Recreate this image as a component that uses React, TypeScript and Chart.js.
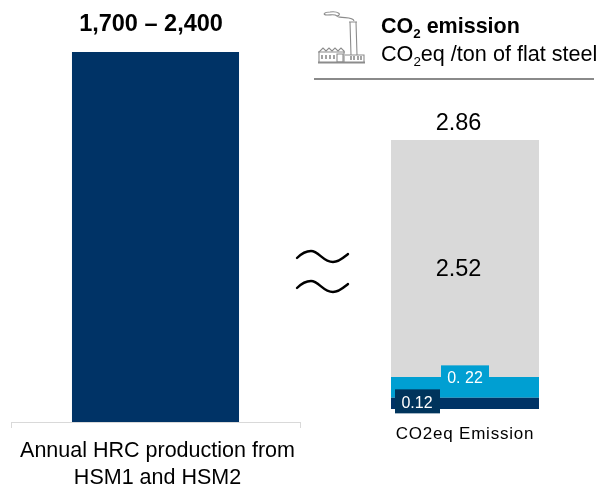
import React, { useEffect, useRef } from "react";
import { Chart, registerables } from "chart.js";

Chart.register(...registerables);

const FONT = '"Liberation Sans", Arial, sans-serif';

const productionCategories = [["Annual HRC production from", "HSM1 and HSM2"]];
const productionHigh = [2400];
const productionLabel = "1,700 – 2,400";

const emissionCategories = ["CO2eq Emission"];
const directEmission = [0.12];
const energyEmission = [0.22];
const upstreamEmission = [2.52];
const emissionTotal = 2.86;
const emissionLabels = ["0.12", "0. 22", "2.52"];

const NAVY = "#003366";
const CYAN = "#009FD2";
const GREY = "#D9D9D9";

type Boxed = { text: string; dx: number; dy: number; color: string; size: number; box?: [number, number, number, number]; fill?: string };

// Draws the text above a bar stack and the optional boxed labels on its segments.
const labelPlugin = {
  id: "barLabels",
  beforeDraw(chart: any, _args: any, opts: any) {
    // Axis text may carry extra tracking; it is cleared again for the value labels.
    (chart.ctx as any).letterSpacing = opts.tracking || "0px";
  },
  afterDatasetsDraw(chart: any, _args: any, opts: any) {
    const ctx = chart.ctx;
    ctx.save();
    ctx.letterSpacing = "0px";
    ctx.textAlign = "center";
    ctx.textBaseline = "middle";
    (opts.segments || []).forEach((s: Boxed | null, i: number) => {
      if (!s) return;
      const bar = chart.getDatasetMeta(i).data[0];
      const cx = bar.x + s.dx;
      const cy = (bar.y + bar.base) / 2 + s.dy;
      if (s.box && s.fill) {
        ctx.fillStyle = s.fill;
        ctx.fillRect(cx - s.box[0], cy - s.box[1], s.box[0] + s.box[2], s.box[1] + s.box[3]);
      }
      ctx.fillStyle = s.color;
      ctx.font = `${s.size}px ${FONT}`;
      ctx.fillText(s.text, cx, cy);
    });
    if (opts.top) {
      const n = chart.data.datasets.length - 1;
      const bar = chart.getDatasetMeta(n).data[0];
      ctx.fillStyle = "#000";
      ctx.font = `${opts.top.weight} ${opts.top.size}px ${FONT}`;
      ctx.fillText(opts.top.text, bar.x + opts.top.dx, bar.y + opts.top.dy);
    }
    ctx.restore();
  },
};

function useChart(build: (c: HTMLCanvasElement) => Chart) {
  const ref = useRef<HTMLCanvasElement>(null);
  useEffect(() => {
    const chart = build(ref.current!);
    return () => chart.destroy();
  }, []);
  return ref;
}

// Keeps the axis band at a set height and stops wide labels from narrowing the plot.
const fixedHeight = (h: number) => (scale: any) => {
  scale.height = h;
  scale.paddingLeft = 0;
  scale.paddingRight = 0;
};

function ProductionChart() {
  const ref = useChart(
    (c) =>
      new Chart(c, {
        type: "bar",
        plugins: [labelPlugin],
        data: {
          labels: productionCategories as any,
          datasets: [{ data: productionHigh, backgroundColor: NAVY, categoryPercentage: 1, barPercentage: 0.578 }],
        },
        options: {
          animation: false,
          responsive: false,
          layout: { padding: { left: 11, right: 1, top: 52, bottom: 0 } },
          plugins: {
            legend: { display: false },
            tooltip: { enabled: false },
            barLabels: { top: { text: productionLabel, weight: "bold", size: 23.5, dx: -4.5, dy: -27 } },
          } as any,
          scales: {
            x: {
              afterFit: fixedHeight(69),
              grid: { offset: true, drawOnChartArea: false, color: "#D9D9D9", tickLength: 6 },
              border: { color: "#D9D9D9" },
              ticks: {
                autoSkip: false,
                maxRotation: 0,
                minRotation: 0,
                color: "#000",
                padding: 9,
                labelOffset: 2,
                font: { family: FONT, size: 21.5, lineHeight: 1.27 },
              },
            },
            y: { display: false, min: 0, max: 2400 },
          },
        },
      } as any)
  );
  return <canvas ref={ref} width={301} height={491} style={{ position: "absolute", left: 0, top: 0 }} />;
}

function EmissionChart() {
  const ref = useChart(
    (c) =>
      new Chart(c, {
        type: "bar",
        plugins: [labelPlugin],
        data: {
          labels: emissionCategories,
          datasets: [
            { data: directEmission, backgroundColor: NAVY },
            { data: energyEmission, backgroundColor: CYAN },
            { data: upstreamEmission, backgroundColor: GREY },
          ],
        },
        options: {
          animation: false,
          responsive: false,
          datasets: { bar: { categoryPercentage: 1, barPercentage: 0.74 } },
          layout: { padding: { left: 64, right: 35, top: 140, bottom: 0 } },
          plugins: {
            legend: { display: false },
            tooltip: { enabled: false },
            barLabels: {
              tracking: "0.8px",
              segments: [
                { text: emissionLabels[0], dx: -48, dy: 0, color: "#fff", size: 16, box: [22, 14, 23, 10], fill: "#00345C" },
                { text: emissionLabels[1], dx: 0, dy: -9, color: "#fff", size: 16, box: [24, 13, 24, 10], fill: CYAN },
                { text: emissionLabels[2], dx: -6.5, dy: 11, color: "#000", size: 23.5 },
              ],
              top: { text: String(emissionTotal), weight: "normal", size: 23.5, dx: -6.5, dy: -16 },
            },
          } as any,
          scales: {
            x: {
              stacked: true,
              afterFit: fixedHeight(82),
              grid: { display: false },
              border: { display: false },
              ticks: {
                maxRotation: 0,
                minRotation: 0,
                color: "#000",
                padding: 7,
                font: { family: FONT, size: 17 },
              },
            },
            y: { display: false, stacked: true, min: 0, max: emissionTotal },
          },
        },
      } as any)
  );
  return <canvas ref={ref} width={299} height={491} style={{ position: "absolute", left: 301, top: 0 }} />;
}

// Line-art factory with a smoking chimney.
function FactoryIcon() {
  return (
    <svg width={52} height={58} viewBox="0 0 52 58" style={{ position: "absolute", left: 315, top: 8 }} fill="none" stroke="#8c8c8c" strokeWidth={1.1}>
      <path d="M35 14 L36 47 M41 14 L42 47 M34 14 H42" />
      <path d="M39 13 C38 8 26 11 22 8 C27 7 24 3 15 4 C9 4 7 7 12 7 C17 7 20 6 22 8" />
      <path d="M4 54 V44 L8 40 L11 43 L14 40 L17 43 L20 40 L23 43 L26 40 L29 43 V54" />
      <path d="M3 44 H30 M3 54 H50 M3 55 H50 M30 47 H49 V54" />
      <path d="M7 47 V51 M11 47 V51 M15 47 V51 M19 47 V51 M36 48 V52 M39 48 V52 M43 48 V52 M46 48 V52" strokeWidth={1.6} />
      <path d="M22 46 H28 V54 H22 Z" />
    </svg>
  );
}

// Pair of wavy strokes marking the equivalence between the two bars.
function ApproxSign() {
  const wave = "M2 11 C7 6 12 4 16 4 C24 4 28 15 38 15 C44 15 48 11 53 7";
  return (
    <svg width={56} height={56} viewBox="0 0 56 56" style={{ position: "absolute", left: 295, top: 247 }} fill="none" stroke="#000" strokeWidth={2.4} strokeLinecap="round">
      <path d={wave} />
      <path d={wave} transform="translate(0 30)" />
    </svg>
  );
}

const subStyle: React.CSSProperties = { fontSize: "62%", position: "relative", top: 5, lineHeight: 0 };

function Header() {
  const line: React.CSSProperties = { position: "absolute", left: 381, whiteSpace: "nowrap", color: "#000", fontFamily: FONT };
  return (
    <>
      <FactoryIcon />
      <div style={{ ...line, top: 14, fontSize: 21.5, lineHeight: "24px", fontWeight: "bold" }}>
        CO<span style={subStyle}>2</span> emission
      </div>
      <div style={{ ...line, top: 42, fontSize: 21.6, lineHeight: "24px" }}>
        CO<span style={subStyle}>2</span>eq /ton of flat steel
      </div>
      <div style={{ position: "absolute", left: 314, top: 78, width: 280, height: 2, background: "#8a8a8a" }} />
    </>
  );
}

export default function App() {
  return (
    <div style={{ position: "absolute", left: 0, top: 0, width: 600, height: 491, overflow: "hidden", background: "#fff" }}>
      <ProductionChart />
      <EmissionChart />
      <ApproxSign />
      <Header />
    </div>
  );
}
